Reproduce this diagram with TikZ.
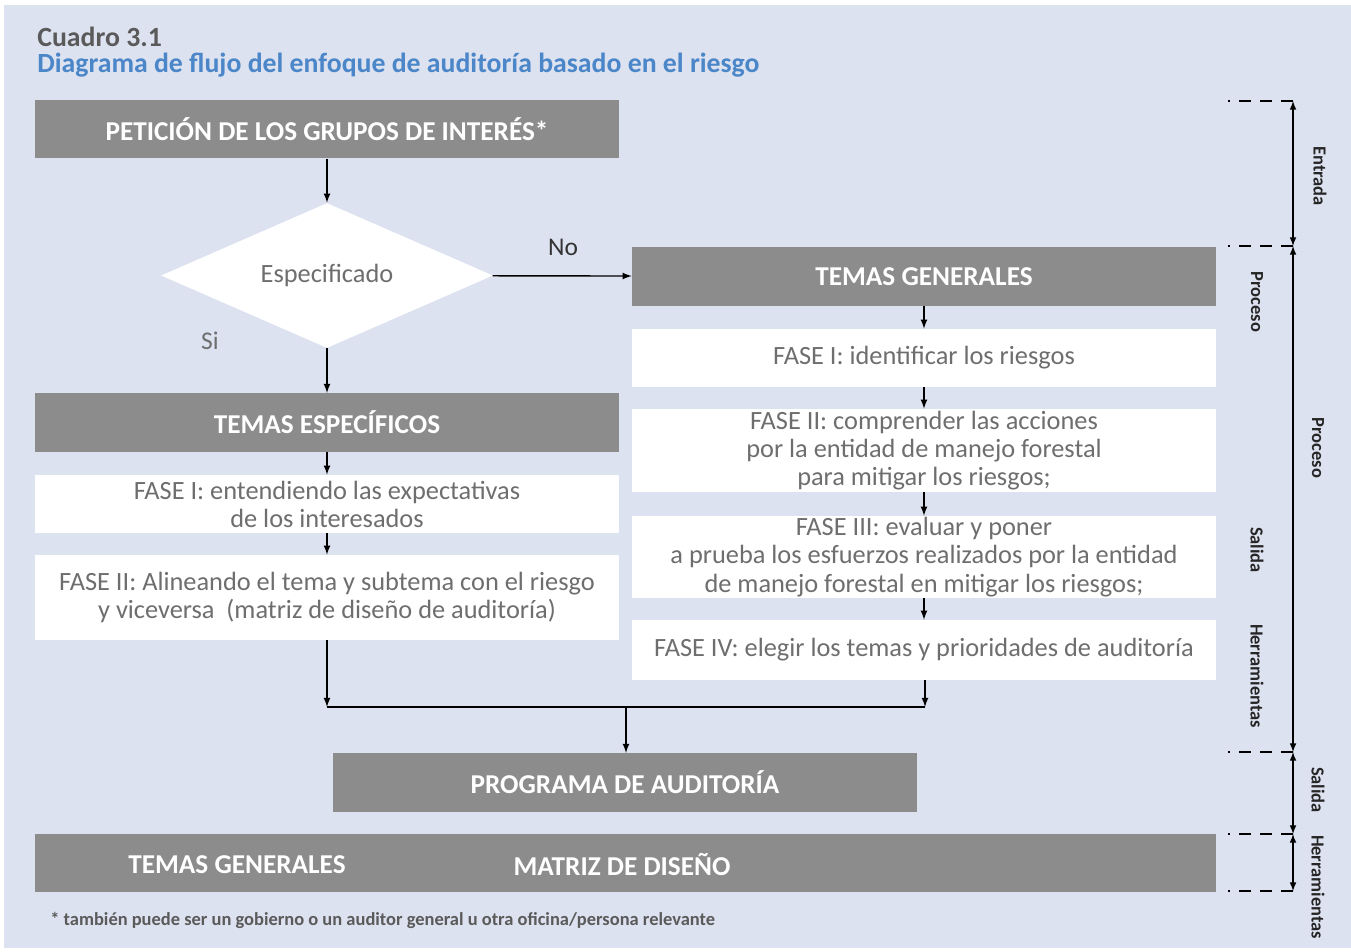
\documentclass[tikz,border=0pt]{standalone}
\usepackage{fontspec}
\setmainfont{Carlito}
\usepackage{tikz}
\usetikzlibrary{arrows,shapes.geometric}

\definecolor{fondo}{HTML}{DDE2F0}
\definecolor{cajagris}{HTML}{8C8C8C}
\definecolor{textogris}{HTML}{6E6E6E}
\definecolor{titulogris}{HTML}{5A5A5A}
\definecolor{tituloazul}{HTML}{4A86C8}

\begin{document}
\begin{tikzpicture}[x=0.02cm,y=-0.02cm,
  cabecera/.style={fill=cajagris,text=white,font=\fontsize{15.5}{17}\selectfont\bfseries,minimum width=11.68cm,minimum height=1.17cm,inner sep=0pt},
  fase/.style={fill=white,text=textogris,font=\fontsize{15}{16}\selectfont,align=center,minimum width=11.68cm,inner sep=0pt},
  flecha/.style={->,>=latex,line width=0.8pt},
  etiq/.style={font=\fontsize{10.5}{12}\selectfont\bfseries,rotate=-90,text=black!85}]

\useasboundingbox (0,0) rectangle (1351,951);
\fill [white] (0,0) rectangle (1351,951);
\fill [fondo] (4,5) rectangle (1351,948);

% titulo
\node [anchor=base west,inner sep=0pt,text=titulogris,font=\fontsize{15.8}{18}\selectfont\bfseries] (cuadro) at (37,46) {Cuadro 3.1};
\node [anchor=base west,inner sep=0pt,text=tituloazul,font=\fontsize{15.8}{18}\selectfont\bfseries] (titulo) at (37,72) {Diagrama de flujo del enfoque de auditoría basado en el riesgo};

% columna izquierda
\node [cabecera] (peticion) at (327,129) {PETICIÓN DE LOS GRUPOS DE INTERÉS*};
\node [diamond,aspect=2.29,fill=white,text=textogris,font=\fontsize{15}{17}\selectfont,minimum width=6.64cm,minimum height=2.9cm,inner sep=0pt] (espec) at (327,275.5) {Especificado};
\node [cabecera] (temasesp) at (327,422.5) {TEMAS ESPECÍFICOS};
\node [fase,minimum height=1.16cm] (faseIa) at (327,504) {FASE I: entendiendo las expectativas\\de los interesados};
\node [fase,minimum height=1.7cm] (faseIIa) at (327,597.5) {FASE II: Alineando el tema y subtema con el riesgo\\y viceversa\ \ (matriz de diseño de auditoría)};

\draw [flecha] (peticion) -- (espec);
\draw [flecha] (espec) -- (temasesp);
\draw [flecha] (temasesp) -- (faseIa);
\draw [flecha] (faseIa) -- (faseIIa);
\node [text=textogris,font=\fontsize{14.5}{17}\selectfont] (si) at (210,341) {Si};

% columna derecha
\node [cabecera] (temasgen) at (924,276.5) {TEMAS GENERALES};
\node [fase,minimum height=1.16cm] (faseIb) at (924,358) {FASE I: identificar los riesgos};
\node [fase,minimum height=1.66cm] (faseIIb) at (924,450.5) {FASE II: comprender las acciones\\por la entidad de manejo forestal\\para mitigar los riesgos;};
\node [fase,minimum height=1.64cm] (faseIIIb) at (924,557) {FASE III: evaluar y poner\\a prueba los esfuerzos realizados por la entidad\\de manejo forestal en mitigar los riesgos;};
\node [fase,minimum height=1.2cm] (faseIVb) at (924,650) {FASE IV: elegir los temas y prioridades de auditoría};

\node [text=black!80,font=\fontsize{14.5}{17}\selectfont] (no) at (563,247) {No};
\draw [flecha] (espec) -- (temasgen);
\draw [flecha] (temasgen) -- (faseIb);
\draw [flecha] (faseIb) -- (faseIIb);
\draw [flecha] (faseIIb) -- (faseIIIb);
\draw [flecha] (faseIIIb) -- (faseIVb);

% union
\coordinate (uizq) at (327,707);
\coordinate (uder) at (925,707);
\coordinate (umed) at (626,707);
\node [cabecera] (programa) at (625,782.5) {PROGRAMA DE AUDITORÍA};
\draw [flecha] (faseIIa.south) -- (uizq);
\draw [flecha] (faseIVb.south -| uder) -- (uder);
\draw [line width=0.8pt] (uizq) -- (uder);
\draw [flecha] (umed) -- (programa.north -| umed);

% herramientas
\node [fill=cajagris,minimum width=23.62cm,minimum height=1.16cm,inner sep=0pt] (barra) at (625.5,863) {};
\node [text=white,font=\fontsize{15.5}{17}\selectfont\bfseries] (hgen) at (237,865) {TEMAS GENERALES};
\node [text=white,font=\fontsize{15.5}{17}\selectfont\bfseries] (hmatriz) at (622,864) {MATRIZ DE DISEÑO};

\node [anchor=west,inner sep=0pt,text=titulogris,font=\fontsize{10.5}{12}\selectfont\bfseries] (nota) at (50,920) {* también puede ser un gobierno o un auditor general u otra oficina/persona relevante};

% escala de la derecha
\coordinate (e0) at (1293,101);
\coordinate (e1) at (1293,246);
\coordinate (e2) at (1293,752);
\coordinate (e3) at (1293,834);
\coordinate (e4) at (1293,891);
\foreach \c in {e0,e1,e2,e3,e4}
  \draw [dashed,line width=0.7pt,dash pattern=on 7pt off 5pt] (\c) -- +(-65,0);
\draw [latex-latex,line width=0.7pt] (e0) -- (e1);
\draw [latex-latex,line width=0.7pt] (e1) -- (e2);
\draw [latex-latex,line width=0.7pt] (e2) -- (e3);
\draw [latex-latex,line width=0.7pt] (e3) -- (e4);
\node [etiq] (lentrada) at (1320,176) {Entrada};
\node [etiq] (lproceso) at (1318,448) {Proceso};
\node [etiq] (lsalida) at (1318,790) {Salida};
\node [etiq] (lherram) at (1318,887) {Herramientas};
\node [etiq] (iproceso) at (1257,302) {Proceso};
\node [etiq] (isalida) at (1257,550) {Salida};
\node [etiq] (iherram) at (1257,676) {Herramientas};

\end{tikzpicture}
\end{document}
